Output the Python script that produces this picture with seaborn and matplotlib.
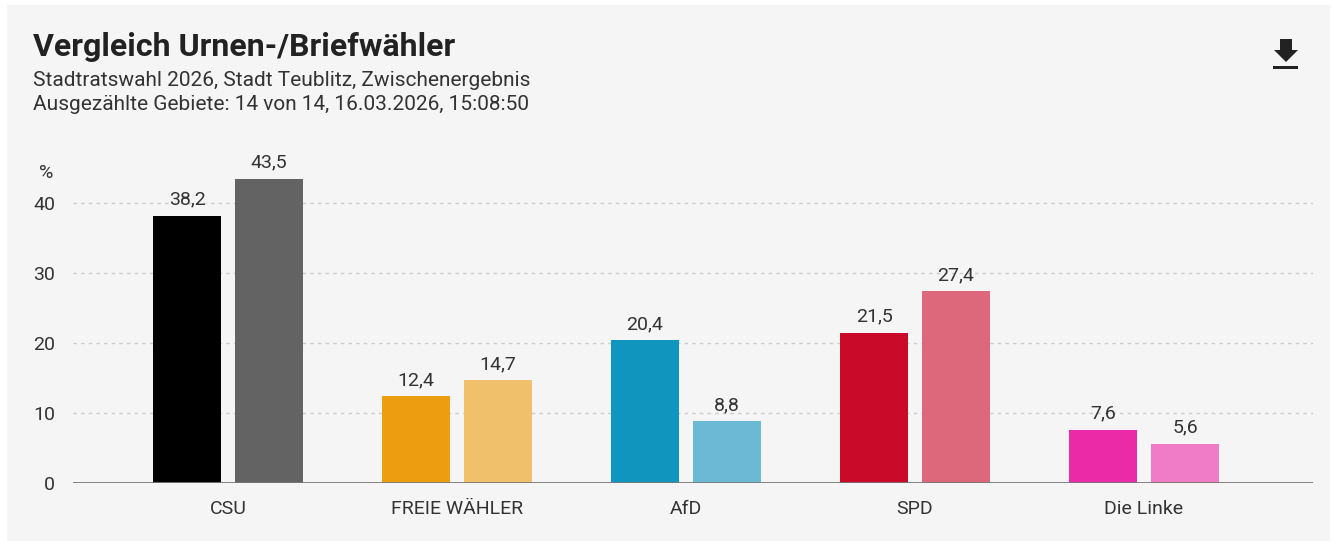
import matplotlib
matplotlib.use("Agg")
import matplotlib.pyplot as plt
import seaborn as sns
import pandas as pd
from matplotlib.patches import Rectangle, Polygon

parties = ["CSU", "FREIE WÄHLER", "AfD", "SPD", "Die Linke"]
urne = [38.2, 12.4, 20.4, 21.5, 7.6]
brief = [43.5, 14.7, 8.8, 27.4, 5.6]
colors_urne = ["#000000", "#EC9D10", "#1095BE", "#C90A28", "#EB2AA8"]
colors_brief = ["#636363", "#F0C06B", "#6BB9D5", "#DD687B", "#F07CC7"]
yticks = [0, 10, 20, 30, 40]

title = "Vergleich Urnen-/Briefwähler"
sub1 = "Stadtratswahl 2026, Stadt Teublitz, Zwischenergebnis"
sub2 = "Ausgezählte Gebiete: 14 von 14, 16.03.2026, 15:08:50"

df = pd.DataFrame({
    "Partei": parties * 2,
    "Wert": urne + brief,
    "Art": ["Urne"] * len(parties) + ["Brief"] * len(parties),
})

sns.set_theme(style="white")
plt.rcParams["font.family"] = ["Roboto", "DejaVu Sans"]

W, H = 1334, 541
fig = plt.figure(figsize=(W / 100, H / 100), dpi=100)
fig.patch.set_facecolor("white")

def fx(px):
    return px / W

def fy(py):
    return 1 - py / H

# gray panel
fig.patches.append(Rectangle((fx(7), 0), fx(1330) - fx(7), fy(5), transform=fig.transFigure,
                             facecolor="#F5F5F5", edgecolor="none", zorder=-10))

ax_left, ax_right, ax_bottom, ax_top = 73, 1313, 483, 161
ax = fig.add_axes([fx(ax_left), fy(ax_bottom), fx(ax_right) - fx(ax_left), fy(ax_top) - fy(ax_bottom)])
ax.set_facecolor("none")

sns.barplot(data=df, x="Partei", y="Wert", hue="Art", order=parties, hue_order=["Urne", "Brief"],
            width=0.716, gap=0.17, ax=ax, legend=False, saturation=1, errorbar=None)

text_color = "#333333"
for i, cont in enumerate(ax.containers):
    cols = colors_urne if i == 0 else colors_brief
    for bar, c in zip(cont, cols):
        bar.set_facecolor(c)
        bar.set_edgecolor("none")
    vals = urne if i == 0 else brief
    labels = [f"{v:.1f}".replace(".", ",") for v in vals]
    ax.bar_label(cont, labels=labels, padding=5, fontsize=14, color=text_color)

ax.set_ylim(0, 46)
ax.set_xlim(-0.677, 4.738)
ax.set_yticks(yticks)
ax.set_yticklabels([str(t) for t in yticks], fontsize=14, color=text_color)
ax.tick_params(axis="y", length=0, pad=13)
ax.tick_params(axis="x", length=0, pad=12, labelsize=14, labelcolor=text_color)
for t in yticks[1:]:
    ax.axhline(t, color="#CCCCCC", linestyle=(0, (2.5, 3)), linewidth=1, zorder=0)
ax.axhline(0, color="#777777", linewidth=2, zorder=5)
for s in ax.spines.values():
    s.set_visible(False)
ax.set_xlabel("")
ax.set_ylabel("")

fig.text(fx(46), fy(173), "%", ha="center", va="center", fontsize=14, color=text_color)

fig.text(fx(33), fy(56), title, ha="left", va="baseline", fontsize=23, fontweight="bold", color="#222222")
fig.text(fx(33), fy(86), sub1, ha="left", va="baseline", fontsize=15, color=text_color)
fig.text(fx(33), fy(110), sub2, ha="left", va="baseline", fontsize=15, color=text_color)

# download icon
arrow = [(1280, 39), (1292, 39), (1292, 50), (1298, 50), (1286, 62), (1274, 50), (1280, 50)]
fig.patches.append(Polygon([(fx(x), fy(y)) for x, y in arrow], closed=True, transform=fig.transFigure,
                           facecolor="#222222", edgecolor="none"))
fig.patches.append(Rectangle((fx(1273), fy(69)), fx(1298) - fx(1273), fy(66) - fy(69),
                             transform=fig.transFigure, facecolor="#222222", edgecolor="none"))

fig.savefig("out.png", dpi=100, facecolor=fig.get_facecolor())
